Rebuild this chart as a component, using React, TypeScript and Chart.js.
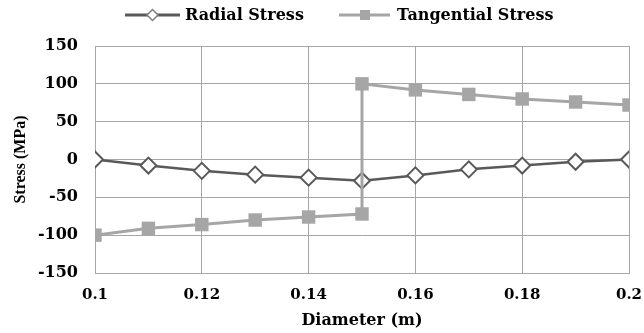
import React, { useEffect, useRef } from 'react';
import { Chart, registerables } from 'chart.js';

Chart.register(...registerables);

// ---- data ----
const radialDiameters = [0.1, 0.11, 0.12, 0.13, 0.14, 0.15, 0.16, 0.17, 0.18, 0.19, 0.2];
const radialStress = [0, -8, -15, -20, -24, -28, -21, -13, -8, -3, 0];
const tangentialDiameters = [0.1, 0.11, 0.12, 0.13, 0.14, 0.15, 0.15, 0.16, 0.17, 0.18, 0.19, 0.2];
const tangentialStress = [-100, -91, -86, -80, -76, -72, 100, 92, 86, 80, 76, 72];
const seriesNames = ['Radial Stress', 'Tangential Stress'];
const xTitle = 'Diameter (m)';
const yTitle = 'Stress (MPa)';

const RADIAL_COLOR = '#595959';
const TANG_COLOR = '#a6a6a6';
const GRID_COLOR = '#a6a6a6';
const WIDE = "'DejaVu Serif', serif";
const TIMES = "'Liberation Serif', serif";

const legendPlugin = {
  id: 'customLegend',
  afterDraw(chart: any) {
    const ctx = chart.ctx as CanvasRenderingContext2D;
    const y = 15;
    ctx.save();
    // Radial
    ctx.strokeStyle = RADIAL_COLOR;
    ctx.lineWidth = 3;
    ctx.beginPath();
    ctx.moveTo(125, y);
    ctx.lineTo(180, y);
    ctx.stroke();
    ctx.beginPath();
    const cx = 152.5, r = 5.5;
    ctx.moveTo(cx - r, y);
    ctx.lineTo(cx, y - r);
    ctx.lineTo(cx + r, y);
    ctx.lineTo(cx, y + r);
    ctx.closePath();
    ctx.fillStyle = '#ffffff';
    ctx.fill();
    ctx.lineWidth = 1.5;
    ctx.strokeStyle = '#7f7f7f';
    ctx.stroke();
    // Tangential
    ctx.strokeStyle = TANG_COLOR;
    ctx.lineWidth = 3;
    ctx.beginPath();
    ctx.moveTo(339, y);
    ctx.lineTo(390, y);
    ctx.stroke();
    ctx.fillStyle = TANG_COLOR;
    ctx.fillRect(365 - 5, y - 5, 10, 10);
    // text
    ctx.fillStyle = '#000000';
    ctx.font = "bold 16px 'DejaVu Serif'";
    ctx.textBaseline = 'middle';
    ctx.textAlign = 'left';
    ctx.fillText(seriesNames[0], 185, y + 1);
    ctx.fillText(seriesNames[1], 397, y + 1);
    ctx.restore();
  },
};

export default function App() {
  const ref = useRef<HTMLCanvasElement | null>(null);

  useEffect(() => {
    document.body.style.margin = '0';
    const canvas = ref.current;
    if (!canvas) return;
    const chart = new Chart(canvas, {
      type: 'line',
      data: {
        datasets: [
          {
            label: seriesNames[0],
            data: radialDiameters.map((x, i) => ({ x, y: radialStress[i] })),
            borderColor: RADIAL_COLOR,
            borderWidth: 2.5,
            pointStyle: 'rectRot',
            pointRadius: 8,
            pointBackgroundColor: '#ffffff',
            pointBorderColor: RADIAL_COLOR,
            pointBorderWidth: 2,
            order: 1,
            tension: 0,
          },
          {
            label: seriesNames[1],
            data: tangentialDiameters.map((x, i) => ({ x, y: tangentialStress[i] })),
            borderColor: TANG_COLOR,
            borderWidth: 3,
            pointStyle: 'rect',
            pointRadius: 9.5,
            pointBackgroundColor: TANG_COLOR,
            pointBorderColor: TANG_COLOR,
            pointBorderWidth: 0,
            order: 0,
            tension: 0,
          },
        ],
      },
      options: {
        responsive: false,
        animation: false,
        devicePixelRatio: 1,
        layout: { padding: { top: 46, right: 15, left: 0, bottom: 0 } },
        plugins: {
          legend: { display: false },
          tooltip: { enabled: false },
        },
        scales: {
          x: {
            type: 'linear',
            min: 0.1,
            max: 0.2,
            ticks: {
              stepSize: 0.02,
              padding: 13,
              color: '#000000',
              font: { family: WIDE, size: 15, weight: 'bold' },
              callback: (v: any) => String(parseFloat(Number(v).toFixed(2))),
              maxRotation: 0,
            },
            grid: { color: GRID_COLOR, lineWidth: 1, drawTicks: false },
            border: { color: GRID_COLOR, width: 1 },
            title: {
              display: true,
              text: xTitle,
              color: '#000000',
              font: { family: WIDE, size: 16, weight: 'bold' },
              padding: { top: 0, bottom: 3 },
            },
            afterFit: (s: any) => {
              s.height = 60;
              s.paddingLeft = 0;
              s.paddingRight = 0;
            },
          },
          y: {
            min: -150,
            max: 150,
            ticks: {
              stepSize: 50,
              padding: 17,
              color: '#000000',
              font: { family: WIDE, size: 16, weight: 'bold' },
            },
            grid: { color: GRID_COLOR, lineWidth: 1, drawTicks: false },
            border: { color: GRID_COLOR, width: 1 },
            title: {
              display: true,
              text: yTitle,
              color: '#000000',
              font: { family: TIMES, size: 16, weight: 'bold' },
              padding: { top: 11, bottom: 0 },
            },
            afterFit: (s: any) => { s.width = 95; },
          },
        },
      },
      plugins: [legendPlugin],
    });
    return () => chart.destroy();
  }, []);

  return (
    <div style={{ width: 644, height: 333 }}>
      <canvas ref={ref} width={644} height={333} style={{ display: 'block' }} />
    </div>
  );
}
